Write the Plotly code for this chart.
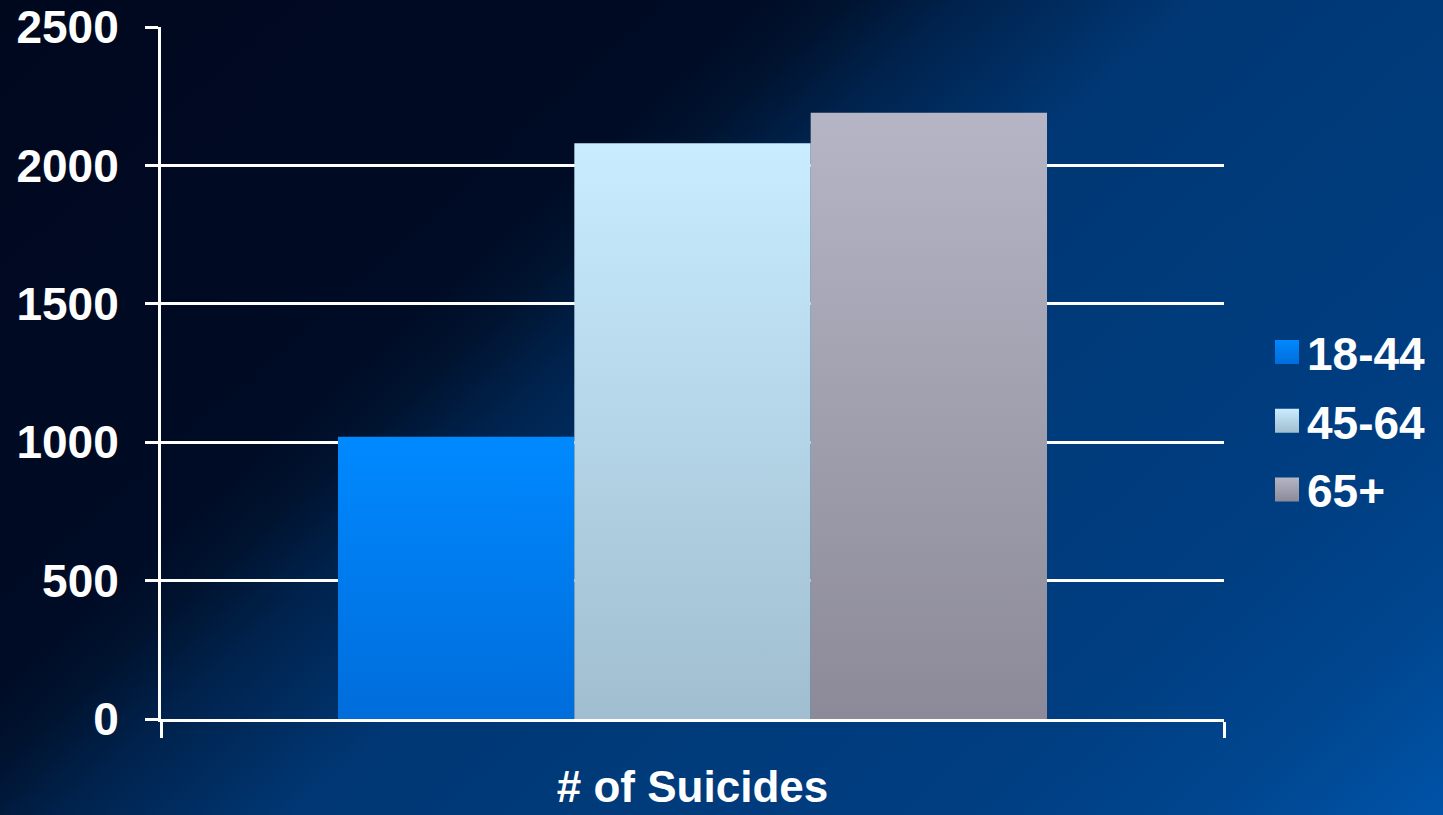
import base64
import json
import plotly.graph_objects as go

# ---- data ----
category = ["# of Suicides"]
series_names = ["18-44", "45-64", "65+"]
series_values = [[1020], [2080], [2190]]
y_ticks = [0, 500, 1000, 1500, 2000, 2500]

# ---- styles ----
bar_mid_colors = ["#007ff0", "#b6d6e9", "#a1a0b0"]
bar_gradients = [["#0089ff", "#006ddb"], ["#c9ecff", "#a0bed0"], ["#b5b5c5", "#8c8a98"]]
FONT = "Liberation Sans, Arial, sans-serif"

W, H = 1443, 815
ML, MR, MT, MB = 161, 219, 27, 96
PW, PH = W - ML - MR, H - MT - MB

bg_svg = f"""<svg xmlns='http://www.w3.org/2000/svg' width='{W}' height='{H}' viewBox='0 0 {W} {H}' preserveAspectRatio='none'>
<defs><linearGradient id='g' gradientUnits='userSpaceOnUse' x1='0' y1='0' x2='1051' y2='1167'>
<stop offset='0' stop-color='#00081e'/>
<stop offset='0.32' stop-color='#000b25'/>
<stop offset='0.36' stop-color='#00132f'/>
<stop offset='0.41' stop-color='#00224c'/>
<stop offset='0.51' stop-color='#003774'/>
<stop offset='0.62' stop-color='#003a79'/>
<stop offset='0.80' stop-color='#003e82'/>
<stop offset='0.90' stop-color='#00468f'/>
<stop offset='1' stop-color='#0053a8'/>
</linearGradient></defs>
<rect x='0' y='0' width='{W}' height='{H}' fill='url(#g)'/></svg>"""
bg_uri = "data:image/svg+xml;base64," + base64.b64encode(bg_svg.encode()).decode()

fig = go.Figure()
for name, vals, col in zip(series_names, series_values, bar_mid_colors):
    fig.add_trace(go.Bar(x=category, y=vals, name=name, legendgroup=name,
                         marker=dict(color=col, line=dict(width=0))))

fig.update_layout(
    width=W, height=H,
    margin=dict(l=ML, r=MR, t=MT, b=MB, autoexpand=False),
    paper_bgcolor="#001a40",
    plot_bgcolor="rgba(0,0,0,0)",
    barmode="group",
    bargap=0.333,
    bargroupgap=0,
    font=dict(family=FONT, color="white", size=44),
    showlegend=True,
    legend=dict(
        x=(1267 - ML) / PW, y=(H - MB - 421) / PH, xanchor="left", yanchor="middle",
        bgcolor="rgba(0,0,0,0)", font=dict(family=FONT, size=46, color="white", weight="bold"),
        itemsizing="constant", tracegroupgap=6,
    ),
    images=[dict(
        source=bg_uri, xref="paper", yref="paper",
        x=-ML / PW, y=1 + MT / PH, sizex=W / PW, sizey=H / PH,
        xanchor="left", yanchor="top", sizing="stretch", layer="below",
    )],
)

fig.update_xaxes(
    showline=True, linecolor="white", linewidth=3,
    ticks="outside", tickson="boundaries", ticklen=16, tickwidth=3, tickcolor="white",
    showgrid=False, automargin=False,
    tickfont=dict(family=FONT, size=44, color="white", weight="bold"),
    ticklabelstandoff=27,
)
fig.update_yaxes(
    range=[0, 2500], tickvals=y_ticks, ticktext=[str(v) for v in y_ticks],
    showline=True, linecolor="white", linewidth=3,
    ticks="outside", ticklen=13, tickwidth=3, tickcolor="white",
    showgrid=True, gridcolor="white", gridwidth=3, zeroline=False,
    automargin=False,
    tickfont=dict(family=FONT, size=46, color="white", weight="bold"),
    ticklabelstandoff=17,
)

post = """
document.body.style.margin='0';
document.body.style.overflow='hidden';
var gd = document.getElementById('{plot_id}');
var GR = """ + json.dumps(bar_gradients) + """;
function paint(){
  var svg = gd.querySelector('svg.main-svg');
  if(!svg) return;
  var NS='http://www.w3.org/2000/svg';
  var defs = svg.querySelector('defs');
  if(!defs){defs=document.createElementNS(NS,'defs'); svg.insertBefore(defs, svg.firstChild);}
  GR.forEach(function(c,i){
    var id='bargrad'+i;
    if(document.getElementById(id)) return;
    var lg=document.createElementNS(NS,'linearGradient');
    lg.setAttribute('id',id); lg.setAttribute('x1','0'); lg.setAttribute('y1','0');
    lg.setAttribute('x2','0'); lg.setAttribute('y2','1');
    [[0,c[0]],[1,c[1]]].forEach(function(s){
      var st=document.createElementNS(NS,'stop');
      st.setAttribute('offset',s[0]); st.setAttribute('stop-color',s[1]);
      lg.appendChild(st);
    });
    defs.appendChild(lg);
  });
  gd.querySelectorAll('.barlayer .trace').forEach(function(t,i){
    t.querySelectorAll('path').forEach(function(p){ p.style.fill='url(#bargrad'+(i%GR.length)+')'; });
  });
  gd.querySelectorAll('.legend .traces').forEach(function(t,i){
    t.querySelectorAll('.legendpoints path').forEach(function(p){
      p.style.fill='url(#bargrad'+(i%GR.length)+')';
      p.setAttribute('d','M12,12H-12V-12H12Z');
    });
  });
}
paint();
gd.on('plotly_afterplot', paint);
"""

fig.write_html("out.html", post_script=post, config={"displayModeBar": False})
